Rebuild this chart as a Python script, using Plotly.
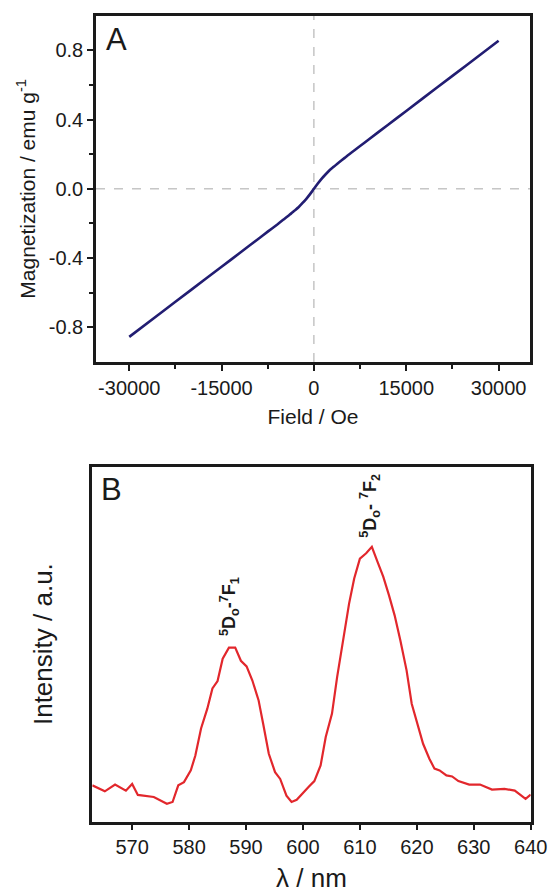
import plotly.graph_objects as go

# ---------------- Panel A data (M vs H) ----------------
field_oe = [-30000, -25000, -20000, -15000, -12000, -9000, -7500, -6000, -5000, -4000, -3200, -2500,
            -1800, -1200, -600, 0, 600, 1200, 1800, 2500, 3200, 4000, 5000, 6000, 7500, 9000,
            12000, 15000, 20000, 25000, 30000]
magnetization = [-0.855, -0.72, -0.585, -0.45, -0.369, -0.288, -0.247, -0.207, -0.179, -0.151, -0.127, -0.106,
                 -0.080, -0.056, -0.029, 0.0, 0.029, 0.056, 0.080, 0.106, 0.127, 0.151, 0.179, 0.207, 0.247, 0.288,
                 0.369, 0.45, 0.585, 0.72, 0.855]

# ---------------- Panel B data (emission spectrum) ----------------
wavelength_nm = [563.0, 565.2, 567.0, 568.9, 570.0, 571.0, 573.8, 576.1, 577.1, 578.1, 579.1, 580.3,
                 581.1, 582.1, 583.2, 584.1, 585.0, 585.9, 587.0, 588.1, 589.1, 590.1, 591.1, 592.2,
                 593.0, 594.0, 595.1, 596.0, 597.1, 598.0, 598.9, 600.0, 601.1, 602.0, 603.1, 604.0,
                 605.1, 606.0, 607.1, 608.1, 609.0, 610.0, 611.1, 612.1, 613.1, 614.1, 615.1, 616.1,
                 617.1, 618.2, 619.1, 620.1, 621.1, 622.2, 623.1, 624.0, 625.2, 626.2, 627.3, 629.2,
                 631.1, 633.2, 635.4, 637.2, 639.1, 640.0]
intensity = [10.2, 8.5, 10.4, 8.7, 10.6, 7.5, 6.9, 5.0, 5.5, 10.2, 11.1, 14.4,
             18.6, 26.2, 31.8, 37.5, 39.6, 45.9, 49.0, 49.0, 45.3, 43.7, 39.8, 34.2,
             27.6, 19.1, 13.9, 12.0, 7.3, 5.5, 6.1, 8.1, 9.9, 11.4, 15.8, 23.8,
             30.4, 40.7, 52.0, 61.4, 68.5, 74.1, 75.6, 77.4, 73.2, 69.0, 63.8, 58.1,
             51.1, 42.6, 33.2, 27.6, 21.9, 17.7, 14.9, 14.4, 13.0, 12.7, 11.4, 10.4,
             10.4, 9.0, 9.2, 8.7, 6.4, 7.6]

a_xticks = [-30000, -15000, 0, 15000, 30000]
a_xticklabels = ["-30000", "-15000", "0", "15000", "30000"]
a_yticks = [-0.8, -0.4, 0.0, 0.4, 0.8]
a_yticklabels = ["-0.8", "-0.4", "0.0", "0.4", "0.8"]
b_xticks = [570, 580, 590, 600, 610, 620, 630, 640]
b_xticklabels = ["570", "580", "590", "600", "610", "620", "630", "640"]

label_peak1 = "<b><sup>5</sup>D<sub>o</sub>-<sup>7</sup>F<sub>1</sub></b>"
label_peak2 = "<b><sup>5</sup>D<sub>o</sub>- <sup>7</sup>F<sub>2</sub></b>"
label_pos = [(587.0, 60.7), (611.7, 88.9)]

W, H = 549, 894
FONT = "Liberation Sans, Arial, sans-serif"
INK = "#1a1a1a"

fig = go.Figure()
fig.add_trace(go.Scatter(x=field_oe, y=magnetization, mode="lines",
                         line=dict(color="#221d72", width=2.6, shape="spline", smoothing=0.5),
                         xaxis="x", yaxis="y", showlegend=False))
fig.add_trace(go.Scatter(x=wavelength_nm, y=intensity, mode="lines",
                         line=dict(color="#e2272c", width=2.2),
                         xaxis="x2", yaxis="y2", showlegend=False))

axis_common = dict(showline=True, linecolor=INK, linewidth=2.5, mirror=True,
                   showgrid=False, zeroline=False, ticks="outside", tickcolor=INK,
                   tickwidth=2, automargin=False,
                   tickfont=dict(family=FONT, size=20, color=INK))

fig.update_layout(
    width=W, height=H,
    margin=dict(l=0, r=0, t=0, b=0),
    paper_bgcolor="white", plot_bgcolor="white",
    xaxis=dict(axis_common, domain=[96 / W, 530 / W], range=[-35400, 35100],
               tickvals=a_xticks, ticktext=a_xticklabels, ticklen=6, anchor="y",
               minor=dict(tickvals=[-22500, -7500, 7500, 22500], ticklen=4, tickwidth=2,
                          tickcolor=INK, ticks="outside"),
               title=dict(text="Field / Oe", font=dict(family=FONT, size=21, color=INK), standoff=12)),
    yaxis=dict(axis_common, domain=[1 - 362 / H, 1 - 15.7 / H], range=[-1.0, 1.0],
               tickvals=a_yticks, ticktext=a_yticklabels, ticklen=6, anchor="x",
               minor=dict(tickvals=[-0.6, -0.2, 0.2, 0.6], ticklen=4, tickwidth=2,
                          tickcolor=INK, ticks="outside"),
               title=dict(text="Magnetization / emu g<sup>-1</sup>",
                          font=dict(family=FONT, size=21, color=INK), standoff=8)),
    xaxis2=dict(axis_common, domain=[92.3 / W, 530.7 / W], range=[563, 640],
                tickvals=b_xticks, ticktext=b_xticklabels, ticklen=6, anchor="y2",
                title=dict(text="λ / nm", font=dict(family=FONT, size=26, color=INK), standoff=12)),
    yaxis2=dict(axis_common, domain=[1 - 821.5 / H, 1 - 466.7 / H], range=[0, 100],
                showticklabels=False, ticks="", anchor="x2",
                title=dict(text="Intensity / a.u.", font=dict(family=FONT, size=26, color=INK),
                           standoff=30)),
)

# dashed zero lines in panel A
fig.add_shape(type="line", xref="x", yref="y domain", x0=0, x1=0, y0=0, y1=1,
              line=dict(color="#a8a8a8", width=1, dash="dash"), layer="below")
fig.add_shape(type="line", xref="x domain", yref="y", x0=0, x1=1, y0=0, y1=0,
              line=dict(color="#a8a8a8", width=1, dash="dash"), layer="below")

# panel letters
fig.add_annotation(text="A", xref="paper", yref="paper", x=104 / W, y=1 - 20 / H,
                   xanchor="left", yanchor="top", showarrow=False,
                   font=dict(family=FONT, size=31, color=INK))
fig.add_annotation(text="B", xref="paper", yref="paper", x=99 / W, y=1 - 470 / H,
                   xanchor="left", yanchor="top", showarrow=False,
                   font=dict(family=FONT, size=31, color=INK))

# transition labels
for txt, (lx, ly) in zip([label_peak1, label_peak2], label_pos):
    fig.add_annotation(text=txt, xref="x2", yref="y2", x=lx, y=ly, textangle=-90,
                       xanchor="center", yanchor="middle", showarrow=False,
                       font=dict(family=FONT, size=18, color=INK))

fig.write_html("out.html", config={"displayModeBar": False},
               post_script="document.body.style.margin='0';document.body.style.overflow='hidden';")
